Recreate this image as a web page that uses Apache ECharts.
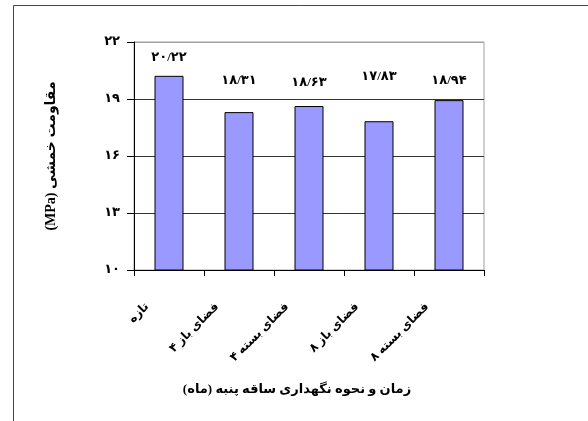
<!DOCTYPE html>
<html>
<head>
<meta charset="utf-8">
<script src="https://cdn.jsdelivr.net/npm/echarts@6/dist/echarts.min.js"></script>
<style>
  html, body { margin: 0; padding: 0; background: #fff; }
  #chart { width: 588px; height: 421px; }
</style>
</head>
<body>
<div id="chart"></div>
<script>
// categories (storage time and method)
var categories = ['تازه', 'فضای باز ۴', 'فضای بسته ۴', 'فضای باز ۸', 'فضای بسته ۸'];
// flexural strength, MPa
var strength = [20.22, 18.31, 18.63, 17.83, 18.94];
var yTicks = [10, 13, 16, 19, 22];
// labels were moved by hand in the original, gap above each bar (px)
var labelGap = [12, 25, 17, 38, 13];

var RLE = '\u202B', PDF = '\u202C';
var font = "'Liberation Serif', 'DejaVu Sans', serif";

function faDigits(s) {
  return String(s).replace(/[0-9]/g, function (d) { return '۰۱۲۳۴۵۶۷۸۹'[+d]; });
}
function faNum(v) {
  return faDigits(v.toFixed(2)).replace('.', '/');
}

var barData = strength.map(function (v, i) {
  return {
    value: v,
    label: { distance: labelGap[i] }
  };
});

var chart = echarts.init(document.getElementById('chart'));
chart.setOption({
  animation: false,
  backgroundColor: '#fff',
  textStyle: { fontFamily: font },
  title: {
    text: RLE + 'زمان و نحوه نگهداری ساقه پنبه (ماه)' + PDF,
    left: 292,
    top: 378,
    textAlign: 'center',
    textStyle: { fontFamily: font, fontSize: 13, fontWeight: 'bold', color: '#000' }
  },
  grid: {
    left: 134, top: 42, width: 350, height: 228,
    show: true, borderColor: '#a0a0a0', borderWidth: 1
  },
  xAxis: {
    type: 'category',
    data: categories.map(function (c) { return RLE + c + PDF; }),
    axisLine: { lineStyle: { color: '#000', width: 1 } },
    axisTick: { show: true, length: 6, lineStyle: { color: '#000' } },
    axisLabel: {
      rotate: 45,
      margin: 13,
      padding: [0, 31, 0, 0],
      fontFamily: font,
      fontSize: 12,
      fontWeight: 'bold',
      color: '#000'
    }
  },
  yAxis: {
    type: 'value',
    min: yTicks[0],
    max: yTicks[yTicks.length - 1],
    interval: 3,
    name: RLE + 'مقاومت خمشی (MPa)' + PDF,
    nameLocation: 'middle',
    nameRotate: 90,
    nameGap: 76,
    nameTextStyle: { fontFamily: font, fontSize: 14, fontWeight: 'bold', color: '#000' },
    axisLine: { show: true, lineStyle: { color: '#000', width: 1 } },
    axisTick: { show: true, length: 7, lineStyle: { color: '#000' } },
    axisLabel: {
      margin: 14,
      fontFamily: font,
      fontSize: 13,
      fontWeight: 'bold',
      color: '#000',
      formatter: function (v) { return faDigits(v); }
    },
    splitLine: {
      show: true,
      lineStyle: { color: ['#333', '#333', '#333', '#333', '#a0a0a0'], width: 1 }
    }
  },
  series: [{
    type: 'bar',
    data: barData,
    barWidth: 29,
    itemStyle: { color: '#9999FF', borderColor: '#000', borderWidth: 1 },
    label: {
      show: true,
      position: 'top',
      fontFamily: font,
      fontSize: 13,
      fontWeight: 'bold',
      color: '#000',
      formatter: function (p) { return faNum(p.value); }
    }
  }],
  graphic: [{
    type: 'polyline',
    shape: { points: [[13.5, 421], [13.5, 5.5], [588, 5.5]] },
    style: { stroke: '#444', lineWidth: 1, fill: null },
    silent: true
  }]
});
</script>
</body>
</html>
